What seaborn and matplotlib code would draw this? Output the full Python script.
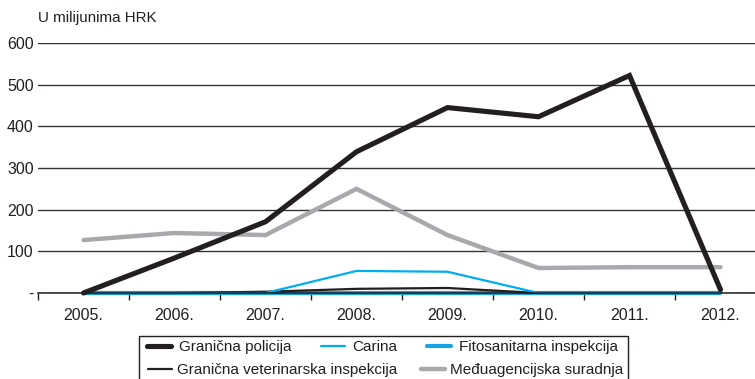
import matplotlib
matplotlib.use("Agg")
import matplotlib.pyplot as plt
import matplotlib.patches as mpatches
from matplotlib.lines import Line2D
import seaborn as sns
import pandas as pd

# Years on the horizontal axis
years = ["2005.", "2006.", "2007.", "2008.", "2009.", "2010.", "2011.", "2012."]

# Spending per agency, in millions of HRK
granicna_policija = [0, 84, 171, 339, 445, 423, 522, 8]
carina = [0, 0, 0, 53, 51, 0, 0, 0]
fitosanitarna = [0, 0, 0, 0, 0, 0, 0, 0]
veterinarska = [0, 0, 3, 10, 12, 0, 0, 0]
meduagencijska = [127, 144, 139, 250, 139, 60, 62, 62]

y_ticks = [0, 100, 200, 300, 400, 500, 600]
y_tick_labels = ["-", "100", "200", "300", "400", "500", "600"]

sns.set_theme(style="white")
plt.rcParams["font.family"] = ["Liberation Sans", "DejaVu Sans"]

fig = plt.figure(figsize=(7.55, 3.79), dpi=100)
ax = fig.add_axes([38 / 755, 1 - 293 / 379, 728 / 755, (293 - 43) / 379])

BLACK = "#231f20"
GRAY = "#a7a9ac"
BLUE = "#00aeef"
BLUE2 = "#1aa3e0"
TEXT = "#231f20"

series = [
    ("Fitosanitarna inspekcija", fitosanitarna, BLUE2, 3.0),
    ("Granična veterinarska inspekcija", veterinarska, BLACK, 1.6),
    ("Carina", carina, BLUE, 1.6),
    ("Međuagencijska suradnja", meduagencijska, GRAY, 3.2),
    ("Granična policija", granicna_policija, BLACK, 3.7),
]

for name, vals, color, lw in series:
    df = pd.DataFrame({"year": years, "value": vals})
    sns.lineplot(data=df, x="year", y="value", ax=ax, color=color,
                 linewidth=lw, sort=False, legend=False, clip_on=False,
                 solid_joinstyle="miter")

ax.set_xlim(-0.5, len(years) - 0.5)
ax.set_ylim(0, 600)

# Gridlines and axis
ax.set_yticks(y_ticks)
ax.set_yticklabels(y_tick_labels, fontsize=11.5, color=TEXT)
ax.yaxis.grid(True, color="#333333", linewidth=1.0)
ax.xaxis.grid(False)
ax.tick_params(axis="y", length=0, pad=3)

ax.set_xticks(range(len(years)))
ax.set_xticklabels(years, fontsize=11.5, color=TEXT)
ax.set_xticks([i - 0.5 for i in range(len(years) + 1)], minor=True)
ax.tick_params(axis="x", which="major", length=0, pad=11)
ax.tick_params(axis="x", which="minor", length=5, width=1.0, color=BLACK,
               direction="out", bottom=True)

for s in ["left", "right", "top"]:
    ax.spines[s].set_visible(False)
ax.spines["bottom"].set_color(BLACK)
ax.spines["bottom"].set_linewidth(1.1)
ax.set_xlabel("")
ax.set_ylabel("")

fig.text(38 / 755, 1 - 18 / 379, "U milijunima HRK", fontsize=10.9,
         color=TEXT, va="center", ha="left")

# Legend box
rect = mpatches.Rectangle((139 / 755, -0.05), 489 / 755, 0.05 + 43 / 379,
                          transform=fig.transFigure, fill=False,
                          edgecolor=TEXT, linewidth=1.0)
fig.add_artist(rect)

style = {name: (color, lw) for name, _, color, lw in series}

def handle(name):
    c, lw = style[name]
    return Line2D([0], [0], color=c, linewidth=lw)

row1 = ["Granična policija", "Carina", "Fitosanitarna inspekcija"]
row2 = ["Granična veterinarska inspekcija", "Međuagencijska suradnja"]

leg1 = fig.legend([handle(n) for n in row1], row1, ncol=3, frameon=False,
                  loc="center left", bbox_to_anchor=(147 / 755, 1 - 347 / 379),
                  fontsize=11, handlelength=1.6, handletextpad=0.5,
                  columnspacing=1.9, borderpad=0, borderaxespad=0)
leg2 = fig.legend([handle(n) for n in row2], row2, ncol=2, frameon=False,
                  loc="center left", bbox_to_anchor=(148 / 755, 1 - 370 / 379),
                  fontsize=11, handlelength=1.6, handletextpad=0.3,
                  columnspacing=1.55, borderpad=0, borderaxespad=0)
for lg in (leg1, leg2):
    for t in lg.get_texts():
        t.set_color(TEXT)

fig.savefig("out.png", dpi=100)
